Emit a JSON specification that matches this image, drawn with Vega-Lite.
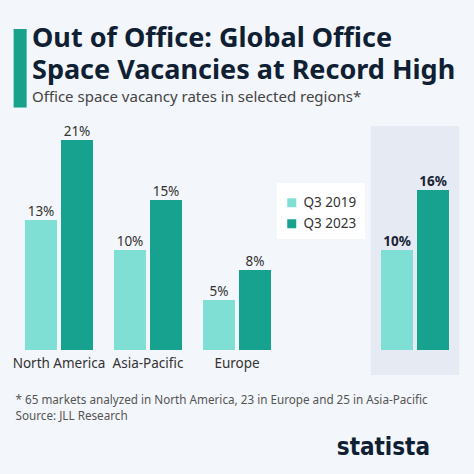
{
  "$schema": "https://vega.github.io/schema/vega-lite/v6.json",
  "autosize": {"type": "none"},
  "padding": {"left": 14.5, "top": 126, "right": 14.5, "bottom": 99},
  "width": 445,
  "height": 249,
  "background": "#f3f6fa",
  "title": {
    "text": ["Out of Office: Global Office", "Space Vacancies at Record High"],
    "subtitle": "Office space vacancy rates in selected regions*",
    "anchor": "start",
    "frame": "group",
    "dx": 17.5,
    "offset": -68,
    "font": "Noto Sans",
    "fontSize": 27,
    "fontWeight": "bold",
    "color": "#0f2033",
    "lineHeight": 31.5,
    "subtitleFont": "Noto Sans",
    "subtitleFontSize": 15,
    "subtitleColor": "#444444",
    "subtitlePadding": 5
  },
  "data": {
    "values": [
      {"region": "North America", "year": "Q3 2019", "value": 0.13},
      {"region": "North America", "year": "Q3 2023", "value": 0.21},
      {"region": "Asia-Pacific", "year": "Q3 2019", "value": 0.10},
      {"region": "Asia-Pacific", "year": "Q3 2023", "value": 0.15},
      {"region": "Europe", "year": "Q3 2019", "value": 0.05},
      {"region": "Europe", "year": "Q3 2023", "value": 0.08},
      {"region": "Worldwide", "year": "Q3 2019", "value": 0.10},
      {"region": "Worldwide", "year": "Q3 2023", "value": 0.16}
    ]
  },
  "encoding": {
    "x": {
      "field": "region",
      "type": "nominal",
      "sort": null,
      "scale": {
        "domain": ["North America", "Asia-Pacific", "Europe", "_", "Worldwide"],
        "paddingInner": 0.236,
        "paddingOuter": 0.118
      },
      "axis": {
        "domain": false,
        "ticks": false,
        "tickSize": 0,
        "grid": false,
        "labelAngle": 0,
        "labelPadding": -8,
        "labelBaseline": "alphabetic",
        "labelFont": "Noto Sans",
        "labelFontSize": 13.5,
        "labelColor": "#333333",
        "labelFontWeight": {"condition": {"test": "datum.value === 'Worldwide'", "value": "bold"}, "value": "normal"},
        "labelExpr": "datum.value === '_' ? '' : datum.value",
        "title": ["* 65 markets analyzed in North America, 23 in Europe and 25 in Asia-Pacific", "Source: JLL Research"],
        "titleFont": "Noto Sans",
        "titleFontSize": 11.7,
        "titleFontWeight": "normal",
        "titleColor": "#555555",
        "titleAnchor": "start",
        "titleAlign": "left",
        "titleBaseline": "alphabetic",
        "titleLineHeight": 16.5,
        "titleX": 0.5,
        "titleY": 28
      }
    }
  },
  "layer": [
    {
      "data": {"values": [{"region": "Worldwide"}]},
      "mark": {"type": "bar", "color": "#e6ebf3", "width": {"band": 1.3}},
      "encoding": {
        "y": {
          "datum": 0.224,
          "type": "quantitative",
          "scale": {"domain": [-0.025, 0.224], "nice": false, "zero": false},
          "axis": {
            "orient": "right",
            "labels": false,
            "ticks": false,
            "domain": false,
            "grid": false,
            "title": "statista",
            "titleFont": "DejaVu Sans Condensed, Roboto, sans-serif",
            "titleFontSize": 24,
            "titleFontWeight": "bold",
            "titleColor": "#0f2033",
            "titleAngle": 0,
            "titleX": -30,
            "titleY": 328,
            "titleAlign": "right",
            "titleBaseline": "alphabetic"
          }
        },
        "y2": {"datum": -0.025}
      }
    },
    {
      "mark": {"type": "bar"},
      "encoding": {
        "xOffset": {"field": "year", "type": "nominal", "scale": {"paddingInner": 0.111, "paddingOuter": 0}},
        "y": {
          "field": "value",
          "type": "quantitative",
          "scale": {"domain": [-0.025, 0.224], "nice": false, "zero": false},
          "axis": {
            "orient": "left",
            "labels": false,
            "ticks": false,
            "domain": false,
            "grid": false,
            "title": "▎",
            "titleFont": "DejaVu Sans",
            "titleFontSize": 66,
            "titleFontWeight": "normal",
            "titleColor": "#1aa18c",
            "titleAngle": 0,
            "titleX": -0.5,
            "titleY": -35.5,
            "titleAlign": "left",
            "titleBaseline": "alphabetic"
          }
        },
        "y2": {"datum": 0},
        "color": {
          "field": "year",
          "type": "nominal",
          "scale": {"range": ["#80dfd4", "#16a28f"]},
          "legend": {
            "orient": "none",
            "legendX": 262.5,
            "legendY": 57,
            "title": " ",
            "titleFontSize": 4,
            "titlePadding": 1,
            "fillColor": "#ffffff",
            "padding": 8,
            "symbolType": "square",
            "symbolSize": 81,
            "symbolStrokeWidth": 0,
            "labelFont": "Noto Sans",
            "labelFontSize": 13.5,
            "labelColor": "#333333",
            "labelOffset": 5,
            "rowPadding": 6
          }
        }
      }
    },
    {
      "transform": [{"filter": "datum.region !== 'Worldwide'"}],
      "mark": {"type": "text", "baseline": "alphabetic", "dy": -4, "font": "Noto Sans", "fontSize": 13.5, "color": "#333333"},
      "encoding": {
        "xOffset": {"field": "year", "type": "nominal", "scale": {"paddingInner": 0.111, "paddingOuter": 0}},
        "y": {"field": "value", "type": "quantitative", "axis": null},
        "text": {"field": "value", "type": "quantitative", "format": ".0%"}
      }
    },
    {
      "transform": [{"filter": "datum.region === 'Worldwide'"}],
      "mark": {"type": "text", "baseline": "alphabetic", "dy": -4, "font": "Noto Sans", "fontSize": 13.5, "fontWeight": "bold", "color": "#1a2433"},
      "encoding": {
        "xOffset": {"field": "year", "type": "nominal", "scale": {"paddingInner": 0.111, "paddingOuter": 0}},
        "y": {"field": "value", "type": "quantitative", "axis": null},
        "text": {"field": "value", "type": "quantitative", "format": ".0%"}
      }
    }
  ],
  "resolve": {"axis": {"y": "independent"}},
  "config": {"view": {"stroke": null}}
}
